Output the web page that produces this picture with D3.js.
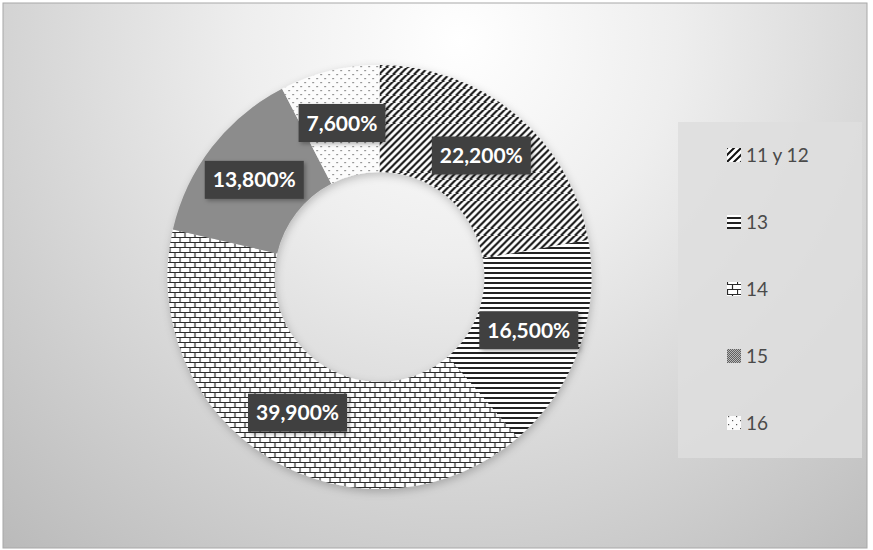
<!DOCTYPE html>
<html>
<head>
<meta charset="utf-8">
<script src="https://cdn.jsdelivr.net/npm/d3@7"></script>
<style>
  html, body { margin: 0; padding: 0; background: #fff; }
  svg { display: block; }
</style>
</head>
<body>
<div id="chart"></div>
<script>
// data
var categories = ["11 y 12", "13", "14", "15", "16"];
var values = [22.2, 16.5, 39.9, 13.8, 7.6];
var patternIds = ["pDiag", "pHoriz", "pBrick", "pChecker", "pDots"];

var width = 873, height = 550;
var cx = 379.5, cy = 277, outerR = 212, innerR = 105;

var svg = d3.select("#chart").append("svg")
  .attr("width", width).attr("height", height);

var defs = svg.append("defs");

// background gradient
var bg = defs.append("radialGradient").attr("id", "bgGrad")
  .attr("gradientUnits", "userSpaceOnUse")
  .attr("cx", 460).attr("cy", 40).attr("r", 720);
bg.append("stop").attr("offset", "0%").attr("stop-color", "#ffffff");
bg.append("stop").attr("offset", "30%").attr("stop-color", "#eeeeee");
bg.append("stop").attr("offset", "70%").attr("stop-color", "#cecece");
bg.append("stop").attr("offset", "100%").attr("stop-color", "#b6b6b6");

// patterns
var p1 = defs.append("pattern").attr("id", "pDiag").attr("patternUnits", "userSpaceOnUse")
  .attr("width", 7).attr("height", 7);
p1.append("rect").attr("width", 7).attr("height", 7).attr("fill", "#fff");
p1.append("path").attr("d", "M-1,1 L1,-1 M0,7 L7,0 M6,8 L8,6")
  .attr("stroke", "#111").attr("stroke-width", 2);

var p2 = defs.append("pattern").attr("id", "pHoriz").attr("patternUnits", "userSpaceOnUse")
  .attr("width", 5).attr("height", 5);
p2.append("rect").attr("width", 5).attr("height", 5).attr("fill", "#fff");
p2.append("rect").attr("y", 0).attr("width", 5).attr("height", 2).attr("fill", "#222");

var p3 = defs.append("pattern").attr("id", "pBrick").attr("patternUnits", "userSpaceOnUse")
  .attr("width", 10).attr("height", 10);
p3.append("rect").attr("width", 10).attr("height", 10).attr("fill", "#fff");
p3.append("path").attr("d", "M0,0.5 H10 M0,5.5 H10 M0.5,0 V5 M5.5,5 V10")
  .attr("stroke", "#2a2a2a").attr("stroke-width", 1.2);

var p4 = defs.append("pattern").attr("id", "pChecker").attr("patternUnits", "userSpaceOnUse")
  .attr("width", 2).attr("height", 2);
p4.append("rect").attr("width", 2).attr("height", 2).attr("fill", "#b8b8b8");
p4.append("rect").attr("width", 1).attr("height", 1).attr("fill", "#606060");
p4.append("rect").attr("x", 1).attr("y", 1).attr("width", 1).attr("height", 1).attr("fill", "#606060");

var p5 = defs.append("pattern").attr("id", "pDots").attr("patternUnits", "userSpaceOnUse")
  .attr("width", 8).attr("height", 8);
p5.append("rect").attr("width", 8).attr("height", 8).attr("fill", "#fcfcfc");
p5.append("rect").attr("x", 1).attr("y", 1).attr("width", 1.2).attr("height", 1.2).attr("fill", "#555");
p5.append("rect").attr("x", 5).attr("y", 5).attr("width", 1.2).attr("height", 1.2).attr("fill", "#555");

// shadows
var sh = defs.append("filter").attr("id", "donutShadow")
  .attr("x", "-20%").attr("y", "-20%").attr("width", "140%").attr("height", "140%");
sh.append("feDropShadow").attr("dx", 1).attr("dy", 3).attr("stdDeviation", 4)
  .attr("flood-color", "#000").attr("flood-opacity", 0.22);

var lsh = defs.append("filter").attr("id", "labelShadow")
  .attr("x", "-20%").attr("y", "-30%").attr("width", "140%").attr("height", "160%");
lsh.append("feDropShadow").attr("dx", 2).attr("dy", 2).attr("stdDeviation", 2)
  .attr("flood-color", "#000").attr("flood-opacity", 0.3);

// background
svg.append("rect").attr("x", 3).attr("y", 3).attr("width", 864).attr("height", 545)
  .attr("fill", "url(#bgGrad)").attr("stroke", "#a8a8a8").attr("stroke-width", 1);

// donut
var data = categories.map(function(c, i){ return {cat: c, value: values[i], pat: patternIds[i]}; });
var pie = d3.pie().sort(null).value(function(d){ return d.value; });
var arc = d3.arc().innerRadius(innerR).outerRadius(outerR);
var labelArc = d3.arc().innerRadius((innerR + outerR) / 2).outerRadius((innerR + outerR) / 2);

var g = svg.append("g").attr("transform", "translate(" + cx + "," + cy + ")");
g.append("g").attr("filter", "url(#donutShadow)")
  .selectAll("path").data(pie(data)).enter().append("path")
  .attr("d", arc)
  .attr("fill", function(d){ return "url(#" + d.data.pat + ")"; });

// labels
var esLocale = d3.formatLocale({decimal: ",", thousands: ".", grouping: [3], currency: ["", "€"]});
var fmt = esLocale.format(".3f");

var labels = g.selectAll("g.lbl").data(pie(data)).enter().append("g")
  .attr("class", "lbl")
  .attr("transform", function(d){ var c = labelArc.centroid(d); return "translate(" + c[0] + "," + c[1] + ")"; });

labels.append("rect").attr("fill", "#404040").attr("filter", "url(#labelShadow)");
labels.append("text")
  .attr("text-anchor", "middle").attr("dy", "0.36em")
  .style("font-family", "Lato, 'Open Sans', sans-serif")
  .style("font-weight", "bold").style("font-size", "21px")
  .attr("fill", "#fff")
  .text(function(d){ return fmt(d.data.value) + "%"; });

labels.each(function(){
  var t = d3.select(this).select("text").node().getBBox();
  d3.select(this).select("rect")
    .attr("x", -t.width / 2 - 8).attr("y", -19)
    .attr("width", t.width + 16).attr("height", 38);
});

// legend
var legend = svg.append("g");
legend.append("rect").attr("x", 678).attr("y", 122).attr("width", 184).attr("height", 336)
  .attr("fill", "#dedede").attr("opacity", 0.85);

var ly = d3.scalePoint().domain(categories).range([155, 423]);
var items = legend.selectAll("g.item").data(data).enter().append("g")
  .attr("class", "item")
  .attr("transform", function(d){ return "translate(727," + ly(d.cat) + ")"; });
items.append("rect").attr("x", 0).attr("y", -7).attr("width", 14).attr("height", 14)
  .attr("fill", function(d){ return "url(#" + d.pat + ")"; });
items.append("text").attr("x", 19).attr("dy", "0.36em")
  .style("font-family", "Lato, 'Open Sans', sans-serif").style("font-size", "19px")
  .attr("fill", "#4a4a4a")
  .text(function(d){ return d.cat; });
</script>
</body>
</html>
